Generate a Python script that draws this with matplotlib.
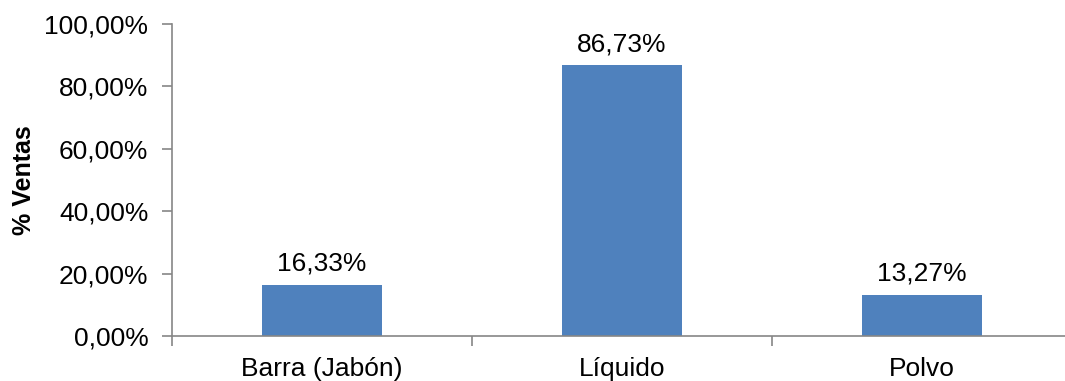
import matplotlib.pyplot as plt
from matplotlib.ticker import FuncFormatter, FixedLocator

categories = ["Barra (Jabón)", "Líquido", "Polvo"]
ventas = [16.33, 86.73, 13.27]

plt.rcParams["font.family"] = ["Liberation Sans", "DejaVu Sans"]

W, H = 1065, 381
fig = plt.figure(figsize=(W / 100, H / 100), dpi=100)
ax = fig.add_axes([172 / W, (H - 336) / H, (W - 172) / W, (336 - 24) / H])

x = list(range(len(categories)))
bars = ax.bar(x, ventas, width=0.4, color="#4F81BD", zorder=2)

for xi, v in zip(x, ventas):
    ax.text(xi, v + 3, f"{v:.2f}%".replace(".", ","), ha="center", va="bottom",
            fontsize=19, color="black")

ax.set_ylim(0, 100)
ax.set_xlim(-0.5, 2.5 - 7 / 300)
ax.set_yticks(range(0, 101, 20))
ax.yaxis.set_major_formatter(FuncFormatter(lambda v, _: f"{v:.2f}%".replace(".", ",")))

# category labels centred, tick marks on the boundaries between them
ax.set_xticks(x)
ax.set_xticklabels(categories)
ax.xaxis.set_minor_locator(FixedLocator([-0.5, 0.5, 1.5, 2.5]))
ax.tick_params(axis="x", which="major", length=0, pad=15, labelsize=19)
ax.tick_params(axis="x", which="minor", length=7, width=1.2, color="#868686", direction="out")
ax.tick_params(axis="y", length=7, width=1.2, color="#868686", direction="out",
               pad=10, labelsize=19)

for side in ["top", "right"]:
    ax.spines[side].set_visible(False)
for side in ["left", "bottom"]:
    ax.spines[side].set_color("#868686")
    ax.spines[side].set_linewidth(1.2)

ax.set_ylabel("% Ventas", fontsize=18, fontweight="bold", labelpad=6)

fig.savefig("out.png", dpi=100)
